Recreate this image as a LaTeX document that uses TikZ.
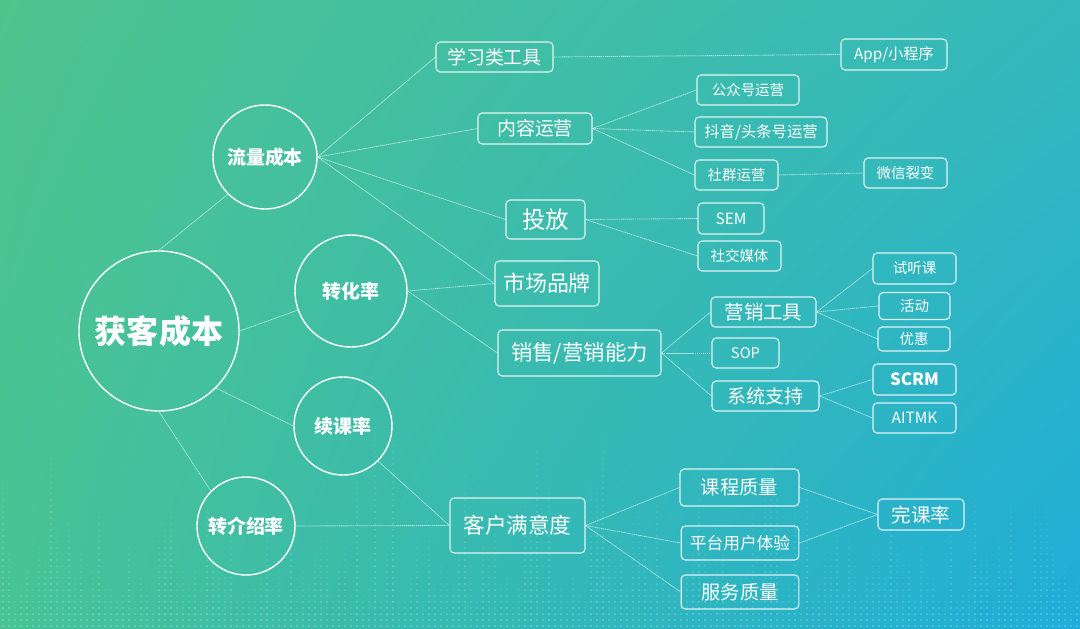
\documentclass[tikz,border=0pt]{standalone}
\usepackage{fontspec}
\setmainfont{Noto Sans CJK SC}
\usepackage{tikz}
\usetikzlibrary{positioning}
\usetikzlibrary{shadings}

\definecolor{bgUL}{HTML}{4EC48D}
\definecolor{bgUR}{HTML}{34B9BC}
\definecolor{bgLL}{HTML}{47C396}
\definecolor{bgLR}{HTML}{1FADD9}

\newcommand{\fsz}[1]{\fontsize{#1}{#1}\selectfont}

\begin{document}
\begin{tikzpicture}[x=0.025cm, y=-0.025cm, line width=1pt,
    circ/.style={circle, draw=white, line width=1pt, text=white, inner sep=0pt},
    tag/.style={rectangle, rounded corners=3pt, draw=white, draw opacity=0.85,
        line width=0.8pt, text=white, inner sep=0pt},
    link/.style={draw=white, draw opacity=0.55, line width=0.6pt,
        dash pattern=on 1pt off 0.4pt}]

        % background
        \shade[upper left=bgUL, upper right=bgUR, lower left=bgLL, lower right=bgLR]
            (0,0) rectangle (1080,629);
        \useasboundingbox (0,0) rectangle (1080,629);

        % dot texture at the bottom
        \pgfmathsetseed{11}
        \foreach \cx in {3,9,...,1077}{
            \pgfmathtruncatemacro{\nr}{5+38*rnd*rnd}
            \foreach \r in {0,...,\nr}{
                \pgfmathsetmacro{\op}{0.26*(1-\r/(\nr+1))}
                \fill[white, fill opacity=\op] (\cx,626-6*\r) circle (0.75pt);
            }
        }

        % circles
        \node[circ, minimum size=4cm, font=\bfseries\fsz{22.8}] (hk) at (159,331) {获客成本};
        \node[circ, minimum size=2.6cm, font=\bfseries\fsz{13.5}] (llcb) at (265,157) {流量成本};
        \node[circ, minimum size=2.8cm, font=\bfseries\fsz{13.5}] (zhl) at (351,291) {转化率};
        \node[circ, minimum size=2.45cm, font=\bfseries\fsz{13.5}] (xkl) at (343,426) {续课率};
        \node[circ, minimum size=2.45cm, font=\bfseries\fsz{13.5}] (zjsl) at (246,526) {转介绍率};

        % second level
        \node[tag, minimum width=2.925cm, minimum height=0.75cm, font=\fsz{13.5}] (xxgj) at (494.5,57) {学习类工具};
        \node[tag, minimum width=2.85cm, minimum height=0.775cm, font=\fsz{13.5}] (nryy) at (535,128.5) {内容运营};
        \node[tag, minimum width=1.975cm, minimum height=0.975cm, font=\fsz{16.7}] (tf) at (545.5,219.5) {投放};
        \node[tag, minimum width=2.6cm, minimum height=1.125cm, font=\fsz{15.6}] (scpp) at (547,283.5) {市场品牌};
        \node[tag, minimum width=4.075cm, minimum height=1.15cm, font=\fsz{15.2}] (xsnl) at (579.5,353) {销售/营销能力};
        \node[tag, minimum width=3.375cm, minimum height=1.375cm, font=\fsz{15.4}] (khmy) at (517.5,525.5) {客户满意度};

        % third level
        \node[tag, minimum width=2.65cm, minimum height=0.775cm, font=\fsz{10.8}] (app) at (894,54.5) {App/小程序};
        \node[tag, minimum width=2.55cm, minimum height=0.75cm, font=\fsz{10.3}] (gzh) at (748,90) {公众号运营};
        \node[tag, minimum width=3.3cm, minimum height=0.75cm, font=\fsz{10.9}] (dy) at (761,132) {抖音/头条号运营};
        \node[tag, minimum width=2.075cm, minimum height=0.75cm, font=\fsz{10.3}] (sq) at (736.5,175) {社群运营};
        \node[tag, minimum width=2.075cm, minimum height=0.75cm, font=\fsz{10.3}] (wx) at (905.5,173) {微信裂变};
        \node[tag, minimum width=1.65cm, minimum height=0.775cm, font=\fsz{11}] (sem) at (731,218.5) {SEM};
        \node[tag, minimum width=2.075cm, minimum height=0.75cm, font=\fsz{10.3}] (sjmt) at (739.5,256) {社交媒体};
        \node[tag, minimum width=2.625cm, minimum height=0.75cm, font=\fsz{13.8}] (yxgj) at (763.5,312) {营销工具};
        \node[tag, minimum width=1.675cm, minimum height=0.75cm, font=\fsz{10.5}] (sop) at (745.5,353) {SOP};
        \node[tag, minimum width=2.675cm, minimum height=0.75cm, font=\fsz{13.5}] (xtzc) at (765.5,396) {系统支持};
        \node[tag, minimum width=2.075cm, minimum height=0.775cm, font=\fsz{10.3}] (st) at (914.5,268.5) {试听课};
        \node[tag, minimum width=1.775cm, minimum height=0.675cm, font=\fsz{10.3}] (hd) at (914.5,306) {活动};
        \node[tag, minimum width=1.8cm, minimum height=0.6cm, font=\fsz{10.3}] (yh) at (914,339) {优惠};
        \node[tag, minimum width=2.075cm, minimum height=0.775cm, font=\bfseries\fsz{12}] (scrm) at (914.5,379.5) {SCRM};
        \node[tag, minimum width=2.075cm, minimum height=0.75cm, font=\fsz{11}] (aitmk) at (914.5,418) {AITMK};
        \node[tag, minimum width=2.975cm, minimum height=0.925cm, font=\fsz{13.7}] (kczl) at (739.5,487.5) {课程质量};
        \node[tag, minimum width=2.94cm, minimum height=0.85cm, font=\fsz{11.9}] (ptty) at (740,543) {平台用户体验};
        \node[tag, minimum width=2.94cm, minimum height=0.85cm, font=\fsz{13.7}] (fwzl) at (740,592) {服务质量};
        \node[tag, minimum width=2.15cm, minimum height=0.775cm, font=\fsz{13.9}] (wkl) at (921,514.5) {完课率};

        % links from the centre
        \draw[link] (hk.north) -- (llcb.south west);
        \draw[link] (hk.east) -- (zhl);
        \draw[link] (hk.south east) -- (xkl.west);
        \draw[link] (hk.south) -- (zjsl.north west);

        \draw[link] (llcb.east) -- (xxgj.west);
        \draw[link] (llcb.east) -- (nryy.west);
        \draw[link] (llcb.east) -- (tf.west);
        \draw[link] (llcb.east) -- (scpp.west);
        \draw[link] (zhl.east) -- (scpp.west);
        \draw[link] (zhl.east) -- (xsnl.west);
        \draw[link] (xkl.south east) -- (khmy.west);
        \draw[link] (zjsl.east) -- (khmy.west);

        % outer links
        \draw[link] (xxgj.east) -- (app.west);
        \draw[link] (nryy.east) -- (gzh.west);
        \draw[link] (nryy.east) -- (dy.west);
        \draw[link] (nryy.east) -- (sq.west);
        \draw[link] (sq.east) -- (wx.west);
        \draw[link] (tf.east) -- (sem.west);
        \draw[link] (tf.east) -- (sjmt.west);
        \draw[link] (xsnl.east) -- (yxgj.west);
        \draw[link] (xsnl.east) -- (sop.west);
        \draw[link] (xsnl.east) -- (xtzc.west);
        \draw[link] (yxgj.east) -- (st.west);
        \draw[link] (yxgj.east) -- (hd.west);
        \draw[link] (yxgj.east) -- (yh.west);
        \draw[link] (xtzc.east) -- (scrm.west);
        \draw[link] (xtzc.east) -- (aitmk.west);
        \draw[link] (khmy.east) -- (kczl.west);
        \draw[link] (khmy.east) -- (ptty.west);
        \draw[link] (khmy.east) -- (fwzl.west);
        \draw[link] (kczl.east) -- (wkl.west);
        \draw[link] (ptty.east) -- (wkl.west);

\end{tikzpicture}
\end{document}
